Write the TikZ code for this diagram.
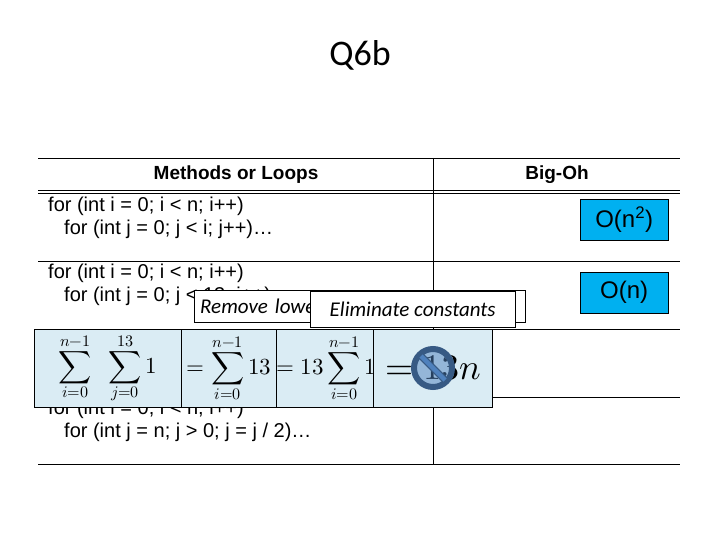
\documentclass[tikz,border=0pt]{standalone}
\usepackage{amsmath}
\usepackage{fontspec}
\usepackage{unicode-math}
\setmainfont{Liberation Sans}
\setmathfont{Latin Modern Math}
\newfontfamily\calib{Carlito}
\usetikzlibrary{positioning}
\definecolor{oblue}{RGB}{0,176,240}
\definecolor{mathbg}{RGB}{218,236,244}
\definecolor{nosign}{RGB}{79,129,189}
\tikzset{
	code/.style={anchor=west, inner sep=0pt, font=\fontsize{20}{22}\selectfont},
	head/.style={font=\bfseries\fontsize{19}{21}\selectfont, inner sep=0pt},
	bigoh/.style={draw, fill=oblue, minimum width=88pt, minimum height=41pt, anchor=north west, inner sep=0pt, font=\fontsize{24}{26}\selectfont},
	tip/.style={draw, fill=white, anchor=north west, inner sep=0pt, font=\calib\itshape\fontsize{21}{23}\selectfont},
	mcell/.style={draw, thick, fill=mathbg, anchor=north west, inner sep=0pt, minimum height=78pt, font=\fontsize{23}{25}\selectfont}
}
\begin{document}
\begin{tikzpicture}[x=1pt, y=-1pt]
	\useasboundingbox (0,0) rectangle (720,540);
	\node[font=\calib\fontsize{36}{38}\selectfont] (title) at (360,55) {Q6b};
	% table
	\draw (38,158) -- (680,158);
	\draw (38,190) -- (680,190);
	\draw (38,193) -- (680,193);
	\draw (38,261) -- (680,261);
	\draw (38,329) -- (680,329);
	\draw (38,397) -- (680,397);
	\draw (38,464) -- (680,464);
	\draw (433,158) -- (433,464);
	\node[head] (hmeth) at (236,175) {Methods or Loops};
	\node[head] (hbig) at (557,175) {Big-Oh};
	\node[code] (r1a) at (48,206) {for (int i = 0; i < n; i++)};
	\node[code] (r1b) at (64,229) {for (int j = 0; j < i; j++)\dots};
	\node[code] (r2a) at (48,273) {for (int i = 0; i < n; i++)};
	\node[code] (r2b) at (64,296) {for (int j = 0; j < 13; j++)\dots};
	\node[code] (r3a) at (48,409) {for (int i = 0; i < n; i++)};
	\node[code] (r3b) at (64,432) {for (int j = n; j > 0; j = j / 2)\dots};
	\node[bigoh] (o1) at (580,199) {O(n\textsuperscript{2})};
	\node[bigoh] (o2) at (580,272) {O(n)};
	% hints
	\node[tip, minimum width=331pt, minimum height=32pt, text width=319pt, align=left] (rem) at (194,290) {Remove lower order terms};
	\node[tip, minimum width=205pt, minimum height=36pt] (elim) at (310,291) {Eliminate constants};
	% math strip
	\node[mcell, minimum width=147pt] (m1) at (34,329)
		{$\displaystyle\sum_{i=0}^{n-1}\;\;\sum_{j=0}^{13}1$};
	\node[mcell, minimum width=95pt] (m2) at (181,329)
		{$\displaystyle=\sum_{i=0}^{n-1}13$};
	\node[mcell, minimum width=97pt] (m3) at (276,329)
		{$\displaystyle=13\sum_{i=0}^{n-1}1$};
	\node[mcell, minimum width=119pt, font=\fontsize{36}{38}\selectfont] (m4) at (373,329)
		{$=13n$};
	\node[circle, draw=nosign!70!black, line width=6pt, fill=nosign, fill opacity=0.5, minimum size=38pt] (no) at (433,368) {};
	\draw[line width=7pt, nosign!70!black] (no.center) ++(-12,-12) -- ++(24,24);
	\draw[line width=4.5pt, nosign] (no.center) ++(-12,-12) -- ++(24,24);
\end{tikzpicture}
\end{document}
